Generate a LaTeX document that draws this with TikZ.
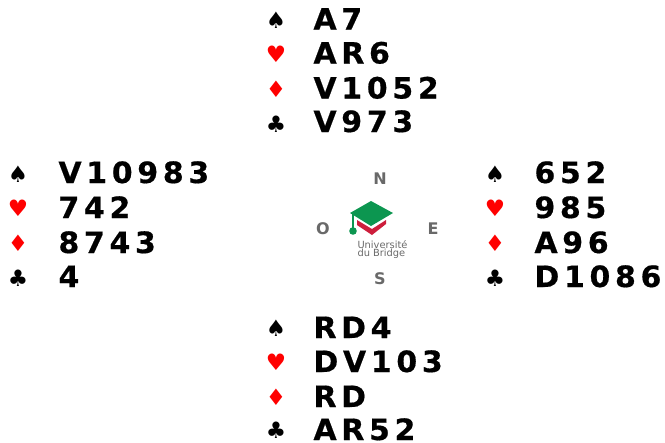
\documentclass[tikz,border=0pt]{standalone}
\usepackage{fontspec}
\setmainfont{DejaVu Sans}
\newfontfamily\cardfont[FakeStretch=1.02,FakeBold=0.6,LetterSpace=16]{DejaVu Sans Bold}
\newfontfamily\logofont{DejaVu Sans}
\definecolor{suitred}{RGB}{255,0,0}
\definecolor{capgreen}{RGB}{12,150,80}
\definecolor{capred}{RGB}{205,30,60}
\definecolor{logogrey}{RGB}{105,105,105}
\tikzset{
  every picture/.style={line width=0.75pt},
  cards/.style={anchor=base west,inner sep=0pt,font=\fontsize{22pt}{24pt}\cardfont},
  blacksuit/.style={anchor=base,inner sep=0pt,font=\fontsize{17pt}{20pt}\selectfont,text=black},
  redsuit/.style={blacksuit,text=suitred},
  compass/.style={inner sep=0pt,font=\fontsize{12pt}{14pt}\logofont\bfseries,text=logogrey},
  logotext/.style={anchor=west,inner sep=0pt,font=\fontsize{7.4pt}{8pt}\logofont,text=logogrey}
}
\begin{document}
\begin{tikzpicture}[x=0.75pt,y=0.75pt,yscale=-1,xscale=1]
\useasboundingbox (0,0) rectangle (665,443);

% North hand
\node [blacksuit] (ns) at (276,28) {♠};
\node [redsuit] (nh) at (276,62) {♥};
\node [redsuit] (nd) at (276,97) {♦};
\node [blacksuit] (nc) at (276,132) {♣};
\node [cards] (nsc) at (313,29.5) {A7};
\node [cards] (nhc) at (313,63.5) {AR6};
\node [cards] (ndc) at (313,98.5) {V1052};
\node [cards] (ncc) at (313,132) {V973};

% West hand
\node [blacksuit] (ws) at (18,182) {♠};
\node [redsuit] (wh) at (18,216) {♥};
\node [redsuit] (wd) at (18,251) {♦};
\node [blacksuit] (wc) at (18,286) {♣};
\node [cards] (wsc) at (58,183) {V10983};
\node [cards] (whc) at (58,218) {742};
\node [cards] (wdc) at (58,253) {8743};
\node [cards] (wcc) at (58,287) {4};

% East hand
\node [blacksuit] (es) at (495,182) {♠};
\node [redsuit] (eh) at (495,216) {♥};
\node [redsuit] (ed) at (495,251) {♦};
\node [blacksuit] (ec) at (495,286) {♣};
\node [cards] (esc) at (534,183) {652};
\node [cards] (ehc) at (534,218) {985};
\node [cards] (edc) at (534,253) {A96};
\node [cards] (ecc) at (534,287) {D1086};

% South hand
\node [blacksuit] (ss) at (276,336) {♠};
\node [redsuit] (sh) at (276,370) {♥};
\node [redsuit] (sd) at (276,405) {♦};
\node [blacksuit] (sc) at (276,438) {♣};
\node [cards] (ssc) at (313,338) {RD4};
\node [cards] (shc) at (313,372) {DV103};
\node [cards] (sdc) at (313,407) {RD};
\node [cards] (scc) at (313,440) {AR52};

% Compass
\node [compass] (north) at (380,179) {N};
\node [compass] (west) at (323,229) {O};
\node [compass] (east) at (433,229) {E};
\node [compass] (south) at (380,279) {S};

%Shape: Logo cap
\fill [capred] (357,220) -- (372,229) -- (386,220) -- (386,224) -- (372,235) -- (357,225) -- cycle;
\fill [capgreen] (371,201) -- (393,213) -- (371,226) -- (350,213) -- cycle;
\draw [capgreen,line width=0.9] (353,214) -- (353,228);
\fill [capgreen] (353,231) circle [radius=3.8];

% Logo text
\node [logotext] (univ) at (357,245) {Université};
\node [logotext] (bridge) at (357,254) {du Bridge};

\end{tikzpicture}
\end{document}
